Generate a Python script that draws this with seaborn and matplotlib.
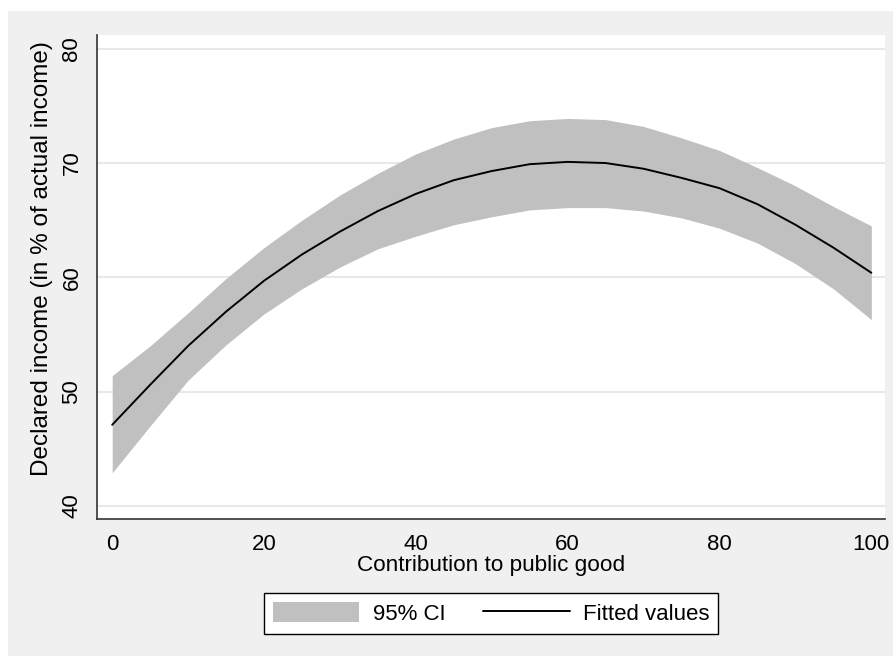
import numpy as np
import pandas as pd
import matplotlib
matplotlib.use("Agg")
import matplotlib.pyplot as plt
import seaborn as sns
from matplotlib.patches import Rectangle, Patch
from matplotlib.lines import Line2D

# values
contribution = [0, 5, 10, 15, 20, 25, 30, 35, 40, 45, 50,
                55, 60, 65, 70, 75, 80, 85, 90, 95, 100]
fitted = [47.1, 50.6, 54.0, 57.0, 59.7, 62.0, 64.0, 65.8, 67.3, 68.5, 69.3,
          69.9, 70.1, 70.0, 69.5, 68.7, 67.8, 66.4, 64.6, 62.6, 60.4]
ci_upper = [51.4, 54.0, 56.9, 59.9, 62.6, 65.0, 67.2, 69.1, 70.8, 72.1, 73.1,
            73.7, 73.9, 73.8, 73.2, 72.2, 71.1, 69.6, 68.0, 66.2, 64.5]
ci_lower = [42.9, 47.0, 51.0, 54.1, 56.8, 59.0, 60.9, 62.5, 63.6, 64.6, 65.3,
            65.9, 66.1, 66.1, 65.8, 65.2, 64.3, 63.0, 61.2, 59.0, 56.3]
x_ticks = [0, 20, 40, 60, 80, 100]
y_ticks = [40, 50, 60, 70, 80]

df = pd.DataFrame({"contribution": contribution, "fitted": fitted,
                   "lower": ci_lower, "upper": ci_upper})

sns.set_theme(style="white")
plt.rcParams['font.family'] = ['Liberation Sans', 'DejaVu Sans']
plt.rcParams['text.color'] = 'black'
plt.rcParams['axes.labelcolor'] = 'black'

fig = plt.figure(figsize=(8.94, 6.56), dpi=100)
fig.patch.set_facecolor("white")
# light gray graph region (Stata style), drawn behind the axes
bg = Rectangle((8 / 894, 0), 885 / 894, 645 / 656,
               transform=fig.transFigure, facecolor="#f0f0f0",
               edgecolor="none", zorder=-10)
fig.add_artist(bg)

ax = fig.add_axes([97 / 894, 1 - 519 / 656, 788 / 894, 484 / 656])
ax.set_facecolor("white")

band_color = "#c0c0c0"
ax.fill_between(df["contribution"], df["lower"], df["upper"],
                color=band_color, linewidth=0, zorder=2)
sns.lineplot(data=df, x="contribution", y="fitted", color="black",
             linewidth=1.4, ax=ax, zorder=3)

ax.set_xlim(-2.0, 101.8)
ax.set_ylim(38.86, 81.2)
ax.set_xticks(x_ticks)
ax.set_yticks(y_ticks)
ax.set_yticklabels([str(v) for v in y_ticks], rotation=90, va="center")
ax.yaxis.grid(True, color="#e8e8e8", linewidth=1.5, zorder=1)
ax.set_axisbelow(True)

for side in ["top", "right"]:
    ax.spines[side].set_visible(False)
for side in ["left", "bottom"]:
    ax.spines[side].set_color("#333333")
    ax.spines[side].set_linewidth(1.2)

ax.tick_params(axis="both", direction="out", length=6.5, width=1.0,
               color="#333333", labelsize=16, labelcolor="black")
ax.tick_params(axis="x", pad=4)
ax.tick_params(axis="y", pad=4)

ax.set_xlabel("Contribution to public good", fontsize=16.2, labelpad=0)
ax.set_ylabel("Declared income (in % of actual income)", fontsize=17.5)
ax.yaxis.set_label_coords(-0.056, 0.539)

handles = [Patch(facecolor=band_color, edgecolor="none", label="95% CI"),
           Line2D([0], [0], color="black", linewidth=1.4, label="Fitted values")]
leg = fig.legend(handles=handles, loc="center", bbox_to_anchor=(491 / 894, 1 - 613.5 / 656),
                 ncol=2, frameon=True, fancybox=False, framealpha=1, fontsize=16,
                 handlelength=3.9, handleheight=1.0, handletextpad=0.6,
                 columnspacing=1.7, borderpad=0.4, borderaxespad=0)
leg.get_frame().set_edgecolor("black")
leg.get_frame().set_linewidth(1.0)
leg.get_frame().set_facecolor("white")

fig.savefig("out.png", dpi=100, facecolor=fig.get_facecolor())
